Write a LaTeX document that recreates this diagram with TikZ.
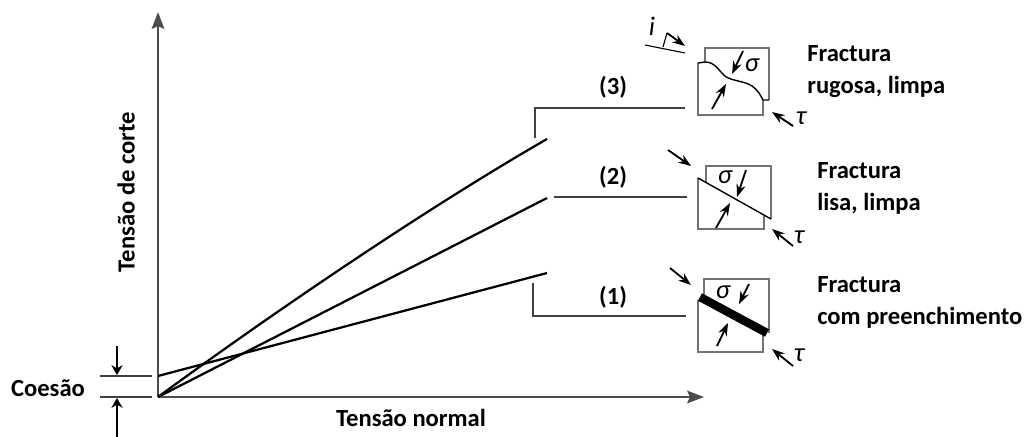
\documentclass[tikz,border=0pt]{standalone}
\usepackage{fontspec}
\setmainfont{Carlito}
\usetikzlibrary{arrows.meta}

\begin{document}
\begin{tikzpicture}[x=0.025cm, y=-0.025cm,
    axis/.style={line width=1.3pt, draw=black!70, -{Stealth[length=12pt, width=9pt, inset=2pt]}},
    curve/.style={line width=1.6pt},
    bracket/.style={line width=1pt, draw=black!75},
    block/.style={line width=1.1pt, draw=black!55},
    crack/.style={line width=1pt},
    load/.style={line width=1.3pt, -{Stealth[length=9pt, width=6.5pt]}},
    lbl/.style={font=\fontsize{17.5}{22.7}\selectfont\bfseries, inner sep=0pt},
    desc/.style={lbl, align=left, anchor=west},
    greek/.style={font=\fontsize{19}{21}\selectfont\itshape, inner sep=0pt}]
    \useasboundingbox (0,0) rectangle (1032,436);

    % 绘制坐标轴
    \coordinate (O) at (158,397);
    \coordinate (Ytip) at (158,12);
    \coordinate (Xtip) at (704,397);
    \draw[axis] (O) -- (Ytip);
    \draw[axis] (O) -- (Xtip);
    \node[lbl, rotate=90] (ylab) at (126,192) {Tensão de corte};
    \node[lbl, anchor=north] (xlab) at (411,409) {Tensão normal};

    % 粘聚力的标注
    \coordinate (C) at (158,376);
    \draw[bracket] (100,376) -- (152,376);
    \draw[bracket] (100,397) -- (152,397);
    \draw[load, -{Stealth[length=7pt, width=8pt]}] (117,346) -- (117,375);
    \draw[load, -{Stealth[length=7pt, width=8pt]}] (117,440) -- (117,398);
    \node[lbl] (coes) at (48,388) {Coesão};

    % 三条强度曲线
    \coordinate (E3) at (547,139);
    \coordinate (E2) at (547,198);
    \coordinate (E1) at (547,273);
    \draw[curve] (O) .. controls (260,322) and (420,212) .. (E3);
    \draw[curve] (O) -- (E2);
    \draw[curve] (C) -- (E1);

    % 引线与编号
    \coordinate (B3) at (535,138);
    \coordinate (B2) at (554,197);
    \coordinate (B1) at (533,283);
    \draw[bracket] (B3) |- (685,108);
    \draw[bracket] (B2) -- (687,197);
    \draw[bracket] (B1) |- (686,316);
    \node[lbl] (n3) at (613,87) {(3)};
    \node[lbl] (n2) at (613,177) {(2)};
    \node[lbl] (n1) at (613,297) {(1)};

    % 粗糙、干净的节理
    \draw[block] (705,62) |- (769,48) -- (769,100);
    \draw[block] (698,63) |- (763,115) -- (763,100);
    \draw[crack] (698,63) -- (705,62) .. controls (715,62) and (718,70) .. (725,76)
        .. controls (731,81) and (745,81) .. (752,86)
        .. controls (758,90) and (761,96) .. (763,100) -- (769,100);
    \draw[load] (743,51) -- (732,74);
    \draw[load] (712,109) -- (726,84);
    \node[greek] (s3) at (752,65) {σ};
    \draw[load] (793,126) -- (772,112);
    \node[greek] (t3) at (801,118) {τ};
    \node[greek] (i3) at (652,26) {i};
    \draw[crack, line width=0.8pt] (645,45) -- (685,53);
    \draw[crack, line width=0.8pt] (663,47) -- (667,33);
    \draw[load] (667,33) -- (685,46);
    \node[desc] (d3) at (807,72) {Fractura\\rugosa, limpa};

    % 光滑、干净的节理
    \draw[block] (706,182) |- (771,166) -- (771,219);
    \draw[block] (698,178) |- (764,229) -- (764,215);
    \draw[crack] (698,178) -- (771,219);
    \draw[load] (746,170) -- (737,197);
    \draw[load] (716,228) -- (730,203);
    \node[greek] (s2) at (725,177) {σ};
    \draw[load] (668,150) -- (691,166);
    \draw[load] (793,246) -- (772,229);
    \node[greek] (t2) at (799,237) {τ};
    \node[desc] (d2) at (817,188) {Fractura\\lisa, limpa};

    % 有充填物的节理
    \draw[block] (704,295) |- (769,279) -- (769,333);
    \draw[block] (698,300) |- (763,352) -- (763,335);
    \draw[line width=6pt] (700,297) -- (767,333);
    \draw[load] (749,284) -- (739,304);
    \draw[load] (717,346) -- (728,323);
    \node[greek] (s1) at (723,292) {σ};
    \draw[load] (670,268) -- (691,285);
    \draw[load] (793,366) -- (772,349);
    \node[greek] (t1) at (799,355) {τ};
    \node[desc] (d1) at (817,302) {Fractura\\com preenchimento};
\end{tikzpicture}
\end{document}
